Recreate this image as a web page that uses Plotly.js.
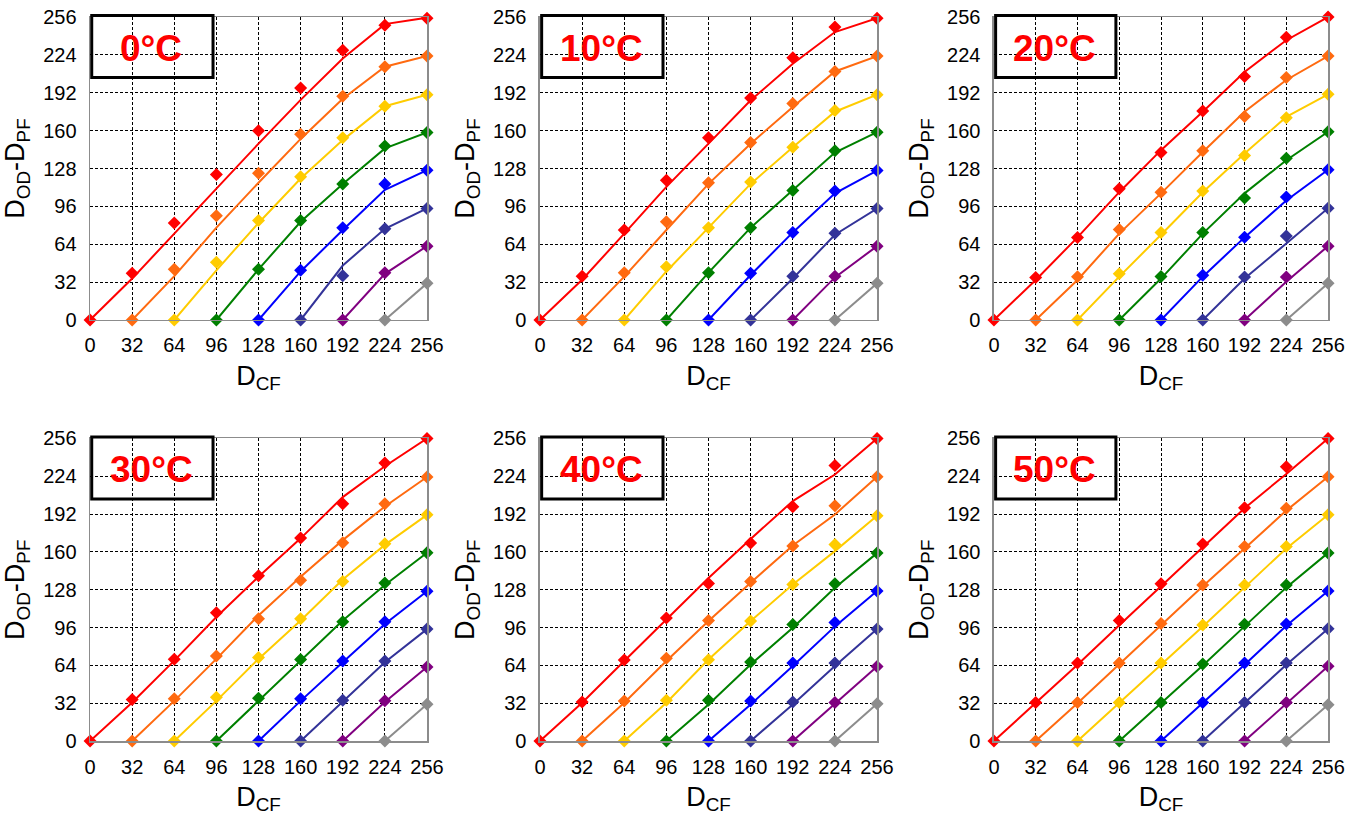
<!DOCTYPE html>
<html>
<head>
<meta charset="utf-8">
<script src="https://cdn.plot.ly/plotly-3.0.1.min.js"></script>
<style>html,body{margin:0;padding:0;background:#fff;}#chart{width:1356px;height:819px;}</style>
</head>
<body>
<div id="chart"></div>
<script>
// ---- data ----
const temps = ['0°C', '10°C', '20°C', '30°C', '40°C', '50°C'];
const xLevels = [0, 32, 64, 96, 128, 160, 192, 224, 256];
const tickVals = [0, 32, 64, 96, 128, 160, 192, 224, 256];
const tickText = ['0', '32', '64', '96', '128', '160', '192', '224', '256'];
// series k starts at xLevels[k] (y = 0) and runs to 256

// measured points (diamonds)
const meas_0C = [
  [0, 39.4, 82, 123, 160, 196, 228, 249, 255],
  [0, 42.8, 88, 124, 157, 189, 214, 223],
  [0, 48.7, 84, 121, 154, 180.6, 190.4],
  [0, 42.8, 84, 115, 147, 158.4],
  [0, 42, 78, 115, 126.6],
  [0, 37.4, 77, 94.2],
  [0, 40, 62.4],
  [0, 31]
];
const fit_0C = [
  [0, 35, 73, 111, 149, 186, 221, 250, 255.5],
  [0, 37, 78, 116, 153, 187, 214, 223],
  [0, 42, 82, 119.5, 152, 180.6, 190.4],
  [0, 42.8, 83, 115, 145, 158.4],
  [0, 41, 76, 110, 126.6],
  [0, 46, 77, 94.2],
  [0, 39, 62.4],
  [0, 31]
];
const meas_10C = [
  [0, 37, 76, 118, 154, 187.6, 221.7, 247.6, 255],
  [0, 40, 83, 116, 150, 183, 210, 223],
  [0, 45, 78, 116.5, 146, 177, 190.4],
  [0, 40, 78, 109.4, 143, 158.7],
  [0, 39.4, 74, 109, 126.3],
  [0, 37, 73.4, 94.2],
  [0, 37, 62.4],
  [0, 31]
];
const fit_10C = [
  [0, 34, 73, 112.5, 149, 185.6, 216.6, 243.3, 255],
  [0, 36.6, 76, 115, 149, 180, 210, 223],
  [0, 41, 78, 115, 146, 176, 190.4],
  [0, 40, 78, 109.4, 141.5, 158.7],
  [0, 38, 74, 107, 126.3],
  [0, 35, 72, 94.2],
  [0, 36, 62.4],
  [0, 31]
];
const meas_20C = [
  [0, 36, 69.8, 110.8, 141.5, 176.7, 205.7, 238.9, 256],
  [0, 36.6, 76.5, 108, 143, 172, 205, 223],
  [0, 39, 74, 109, 139, 171, 190.7],
  [0, 36.8, 74, 103, 136.7, 159],
  [0, 37.7, 70, 104, 127],
  [0, 36.3, 71, 94.5],
  [0, 36.3, 62.4],
  [0, 31]
];
const fit_20C = [
  [0, 33.8, 69.8, 108, 143.5, 176, 209.6, 236.4, 256],
  [0, 33.8, 73, 107, 142, 176, 202.8, 223],
  [0, 36.6, 72, 108, 140.6, 171.6, 190.7],
  [0, 35, 73, 107, 135, 159],
  [0, 36.6, 69.8, 101, 127],
  [0, 35, 64.7, 94.5],
  [0, 32.4, 62.4],
  [0, 31]
];
const meas_30C = [
  [0, 35.2, 69.2, 108.6, 139.8, 171.8, 200.7, 235.3, 256],
  [0, 35.7, 72, 103.5, 136, 167.8, 200.7, 223.4],
  [0, 37, 70.6, 103.5, 135, 167, 191.4],
  [0, 36.3, 69, 101, 133.8, 159.3],
  [0, 35.7, 67.8, 101, 126.7],
  [0, 34.6, 67.8, 94.7],
  [0, 34, 62.7],
  [0, 31.2]
];
const fit_30C = [
  [0, 32.6, 68, 105, 139, 171.5, 206.4, 232.5, 256],
  [0, 34, 69.5, 106.3, 139, 170, 198.5, 223.4],
  [0, 34, 69.5, 102, 136.7, 166, 191.4],
  [0, 34, 68, 102, 132, 159.3],
  [0, 34, 66.6, 99, 126.7],
  [0, 33.5, 66.6, 94.7],
  [0, 33, 62.7],
  [0, 31.2]
];
const meas_40C = [
  [0, 33, 68.5, 104, 133.4, 167.5, 198.2, 233.2, 256],
  [0, 33.8, 70, 102, 135, 165, 199, 223.6],
  [0, 34.4, 68.8, 101.5, 132.5, 166.3, 190.6],
  [0, 34.4, 66.8, 98.7, 133, 159],
  [0, 33.8, 66, 100.4, 127],
  [0, 33, 66, 94.7],
  [0, 32.7, 63],
  [0, 31.6]
];
const fit_40C = [
  [0, 32.4, 67.7, 103, 138, 171, 203, 225.5, 256],
  [0, 32.4, 67.7, 101.5, 134, 165.5, 191.7, 223.6],
  [0, 32.4, 69, 101.5, 132.5, 160.7, 190.6],
  [0, 31, 64.8, 95.9, 129.7, 159],
  [0, 31, 63.4, 97, 127],
  [0, 31, 63.4, 94.7],
  [0, 31.5, 63],
  [0, 31.6]
];
const meas_50C = [
  [0, 32.5, 66, 101.9, 133, 166.8, 197.3, 232, 256],
  [0, 32.5, 66, 99.4, 132, 164.5, 197, 223.7],
  [0, 32.5, 66, 98.2, 132, 164.5, 191.4],
  [0, 32.5, 65.2, 98.8, 132, 159.2],
  [0, 32.5, 66, 99, 127],
  [0, 32.5, 66, 95],
  [0, 32.5, 63.2],
  [0, 30.8]
];
const fit_50C = [
  [0, 32, 64.5, 98, 131, 164, 197, 226, 256],
  [0, 32, 65, 98, 131, 163, 195, 223.7],
  [0, 32, 64.5, 97, 130, 163, 191.4],
  [0, 32, 64, 97, 130, 159.2],
  [0, 32, 64.5, 97.5, 127],
  [0, 32, 64.5, 95],
  [0, 32, 63.2],
  [0, 30.8]
];

const measured = [meas_0C, meas_10C, meas_20C, meas_30C, meas_40C, meas_50C];
const fitted = [fit_0C, fit_10C, fit_20C, fit_30C, fit_40C, fit_50C];

// ---- styles ----
const colors = ['#FF0000', '#FF6A10', '#FFCC00', '#008000', '#0000FF', '#333399', '#800080', '#8C8C8C'];
const FONT = 'Liberation Sans, Arial, Helvetica, sans-serif';
const xDomains = [[0.0664, 0.3149], [0.3982, 0.6468], [0.7330, 0.9794]];
const yDomains = [[0.6093, 0.9792], [0.0952, 0.4646]];

const traces = [];
const layout = {
  width: 1356, height: 819,
  margin: {l: 0, r: 0, t: 0, b: 0},
  paper_bgcolor: '#fff', plot_bgcolor: '#fff',
  showlegend: false,
  font: {family: FONT, color: '#000'},
  annotations: [], shapes: []
};

temps.forEach((t, p) => {
  const n = p + 1;
  const xa = 'x' + (n === 1 ? '' : n);
  const ya = 'y' + (n === 1 ? '' : n);
  const c = p % 3, r = Math.floor(p / 3);
  for (let k = 0; k < 8; k++) {
    const xs = xLevels.slice(k);
    traces.push({
      type: 'scatter', mode: 'lines', x: xs, y: fitted[p][k],
      xaxis: xa, yaxis: ya, cliponaxis: false,
      line: {color: colors[k], width: 2}, hoverinfo: 'skip'
    });
    traces.push({
      type: 'scatter', mode: 'markers', x: xs, y: measured[p][k],
      xaxis: xa, yaxis: ya, cliponaxis: false,
      marker: {symbol: 'diamond', size: 10, color: colors[k], line: {width: 0}}
    });
  }
  const axCommon = {
    range: [0, 256], tickmode: 'array', tickvals: tickVals, ticktext: tickText,
    showgrid: true, gridcolor: '#000', gridwidth: 1, griddash: '3px,2px',
    zeroline: false, showline: true, linecolor: '#8C8C8C', linewidth: 1.5, mirror: true,
    ticks: '', tickfont: {size: 20, family: FONT, color: '#000'}, fixedrange: true
  };
  layout['xaxis' + (n === 1 ? '' : n)] = Object.assign({}, axCommon, {
    domain: xDomains[c], anchor: ya,
    ticklabelstandoff: 7,
    title: {text: 'D<sub>CF</sub>', font: {size: 27, family: FONT, color: '#000'}, standoff: 10}
  });
  layout['yaxis' + (n === 1 ? '' : n)] = Object.assign({}, axCommon, {
    domain: yDomains[r], anchor: xa,
    ticklabelstandoff: 8,
    title: {text: 'D<sub>OD</sub>-D<sub>PF</sub>', font: {size: 27, family: FONT, color: '#000'}, standoff: 10}
  });
  layout.shapes.push({
    type: 'rect', xref: xa + ' domain', yref: ya + ' domain',
    x0: 0.005, x1: 0.365, y0: 0.80, y1: 1.005,
    line: {color: '#000', width: 3}, fillcolor: 'rgba(0,0,0,0)', layer: 'above'
  });
  layout.annotations.push({
    text: t, xref: xa + ' domain', yref: ya + ' domain',
    x: 0.182, y: 0.897, xanchor: 'center', yanchor: 'middle', showarrow: false,
    font: {size: 37, family: FONT, color: '#FF0000', weight: 'bold'}
  });
});

Plotly.newPlot('chart', traces, layout, {displayModeBar: false, staticPlot: true});
</script>
</body>
</html>
